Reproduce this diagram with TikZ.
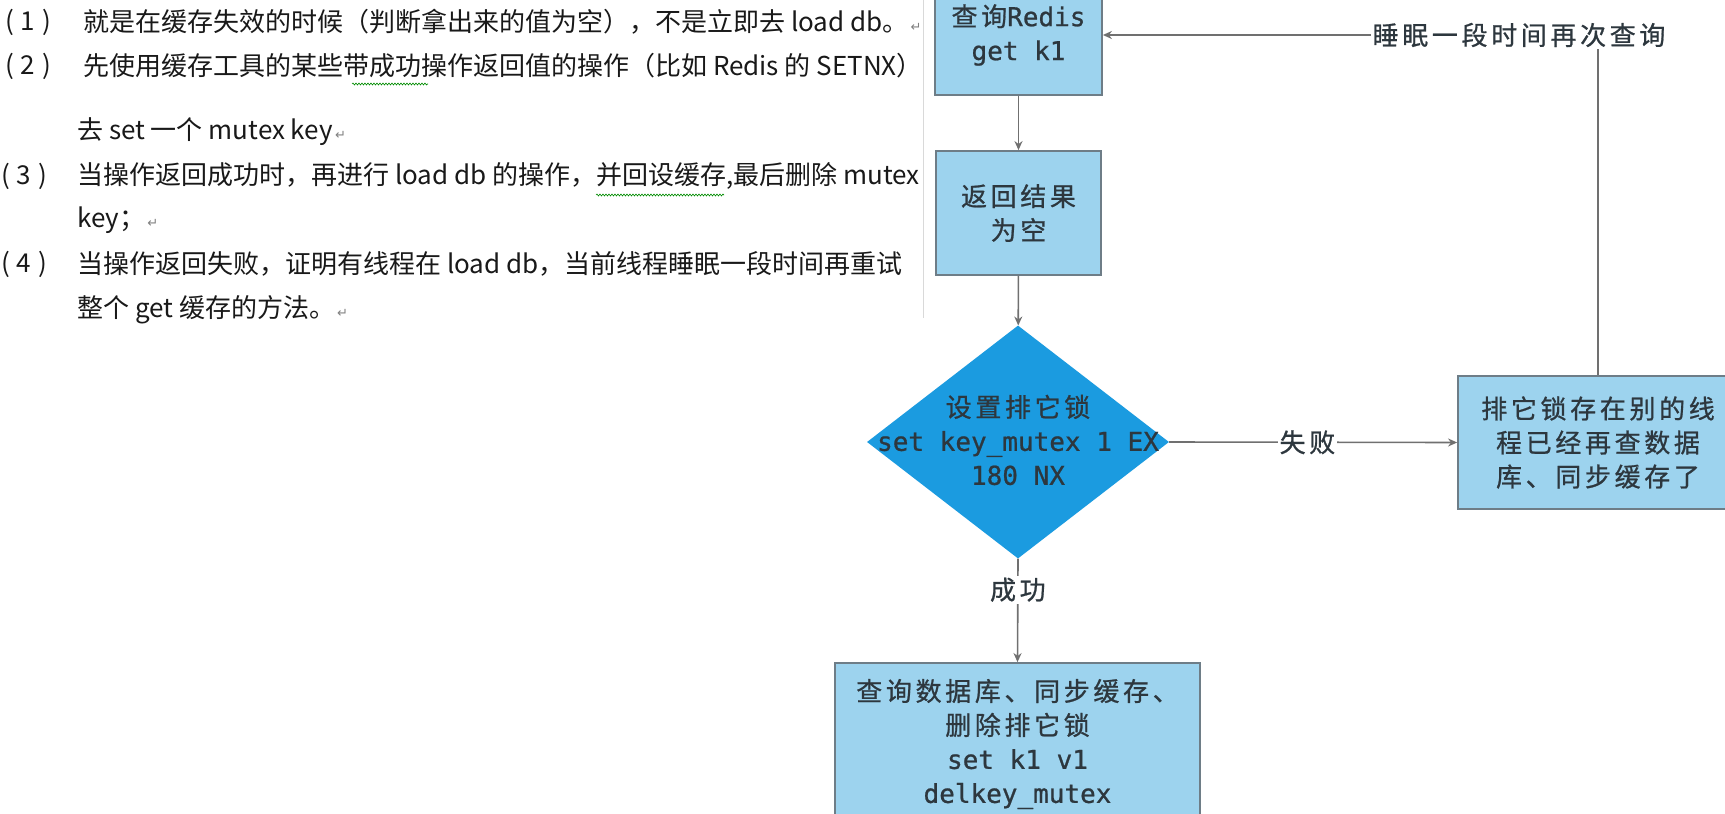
\documentclass[tikz,border=0pt]{standalone}
\usepackage{fontspec}
\setmainfont{Noto Sans CJK SC}
\newfontfamily\cjk[LetterSpace=14,FakeBold=0.8]{Noto Sans CJK SC}
\newfontfamily\mono[FakeBold=0.8]{DejaVu Sans Mono}
\newfontfamily\symf{DejaVu Sans}
\usetikzlibrary{shapes.geometric,arrows.meta,decorations.pathmorphing}
\definecolor{boxfill}{RGB}{157,211,238}
\definecolor{boxdraw}{RGB}{110,125,135}
\definecolor{dfill}{RGB}{27,155,224}
\definecolor{linec}{RGB}{112,112,112}
\definecolor{txt}{RGB}{45,55,62}
\definecolor{ptxt}{RGB}{25,25,25}
\newcommand\bfnt{\fontsize{26}{34}\selectfont}
\newcommand\pfnt{\fontsize{26}{30}\selectfont}
\newcommand\pmark{{\symf\color{gray}\fontsize{13}{13}\selectfont\,↵}}
\newcommand\pnum[1]{(\hspace{7pt}#1\hspace{7pt})}
\tikzset{
  box/.style={draw=boxdraw, line width=1.8pt, fill=boxfill, text=txt, align=center, inner sep=0pt, font=\bfnt},
  arr/.style={draw=linec, line width=1.6pt, -{Stealth[length=9pt,width=8pt]}},
  lbl/.style={fill=white, text=txt, font=\bfnt\cjk, inner sep=2pt},
  ptext/.style={anchor=west, inner sep=0pt, text=ptxt, font=\pfnt},
  squig/.style={draw=green!55!black, line width=0.6pt, decorate, decoration={snake, amplitude=1pt, segment length=3pt}}
}
\begin{document}
\begin{tikzpicture}[x=1pt,y=-1pt]
\useasboundingbox (0,0) rectangle (1725,814);
\clip (0,0) rectangle (1725,814);
\fill[white] (0,0) rectangle (1725,814);
% text panel
\draw[black!15, line width=1pt] (923,0) -- (923,318);
\node[ptext] (n1) at (5,22) {\pnum{1}};
\node[ptext] (t1) at (83,22) {就是在缓存失效的时候（判断拿出来的值为空），不是立即去 load db。\pmark};
\node[ptext] (n2) at (5,66) {\pnum{2}};
\node[ptext] (t2) at (83,66) {先使用缓存工具的某些带成功操作返回值的操作（比如 Redis 的 SETNX）};
\node[ptext] (t2b) at (77,132) {去 set 一个 mutex key\pmark};
\node[ptext] (n3) at (1,176) {\pnum{3}};
\node[ptext] (t3) at (77,176) {当操作返回成功时，再进行 load db 的操作，并回设缓存,最后删除 mutex};
\node[ptext] (t3b) at (77,220) {key；\pmark};
\node[ptext] (n4) at (1,264) {\pnum{4}};
\node[ptext] (t4) at (77,264) {当操作返回失败，证明有线程在 load db，当前线程睡眠一段时间再重试};
\node[ptext] (t4b) at (77,310) {整个 get 缓存的方法。\pmark};
\draw[squig] (352,84) -- (428,84);
\draw[squig] (596,195) -- (724,195);
% flowchart
\node[box, minimum width=167, minimum height=120] (A) at (1018.5,35) {{\cjk 查询}{\mono Redis}\\{\mono get k1}};
\node[box, minimum width=165, minimum height=124] (B) at (1018.5,213) {{\cjk 返回结果}\\{\cjk 为空}};
\node[diamond, fill=dfill, minimum width=302, minimum height=233, inner sep=0pt] (d) at (1018,442) {};
\node[text=txt, align=center, font=\bfnt, inner sep=0pt] (dt) at (1018,440) {{\cjk 设置排它锁}\\{\mono set key\_mutex 1 EX}\\{\mono 180 NX}};
\node[box, minimum width=280, minimum height=133] (C) at (1598,442.5) {{\cjk 排它锁存在别的线}\\{\cjk 程已经再查数据}\\{\cjk 库、同步缓存了}};
\node[box, minimum width=365, minimum height=162] (D) at (1017.5,744) {{\cjk 查询数据库、同步缓存、}\\{\cjk 删除排它锁}\\{\mono set k1 v1}\\{\mono delkey\_mutex}};
\draw[arr] (A) -- (B);
\draw[arr] (B) -- (d);
\draw[arr] (d.east) -- node[lbl, pos=0.48] (fail) {失败} (C.west);
\draw[arr] (d.south) -- node[lbl, pos=0.3] (succ) {成功} (D.north);
\draw[arr] (C.north) |- (A.east);
\node[lbl] (sleep) at (1519,35) {睡眠一段时间再次查询};
\end{tikzpicture}
\end{document}
